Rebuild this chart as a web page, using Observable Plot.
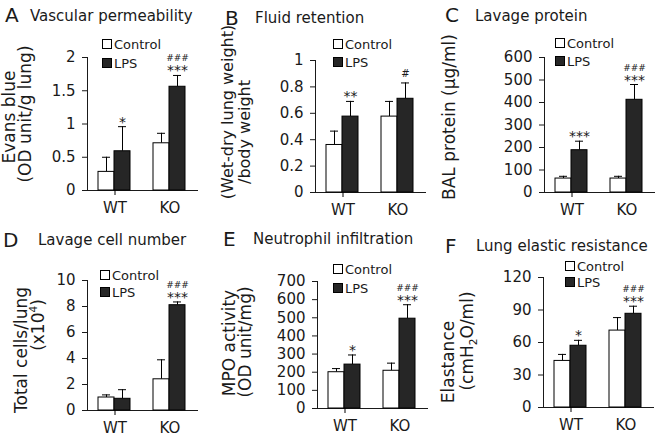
<!DOCTYPE html>
<html><head><meta charset="utf-8">
<script src="https://cdn.jsdelivr.net/npm/d3@7"></script>
<script src="https://cdn.jsdelivr.net/npm/@observablehq/plot@0.6"></script>
<style>
body{margin:0;background:#fff;font-family:"DejaVu Sans",Verdana,sans-serif;color:#1a1a1a}
#fig{position:relative;width:660px;height:436px;overflow:hidden}
.panel{position:absolute}
.abs{position:absolute;white-space:nowrap;line-height:1}
.rot{position:absolute;white-space:nowrap;transform:translate(-50%,-50%) rotate(-90deg);line-height:1}
.leg{position:absolute;display:flex;align-items:center;font-size:13px;line-height:13px;height:13px;white-space:nowrap}
.sw{display:inline-block;width:8px;height:8px;border:1px solid #000;margin-right:2px}
sup,sub{font-size:0.62em;line-height:0}
</style></head><body><div id="fig"></div><script>
// ---- data (order: WT Control, WT LPS, KO Control, KO LPS) ----
const groups = ["WT", "KO"];
const conditions = ["Control", "LPS"];

const evansBlue = [0.28, 0.59, 0.71, 1.56];
const evansBlueErr = [0.22, 0.37, 0.15, 0.17];
const evansBlueStars = ["", "*", "", "***"];
const evansBlueHash = ["", "", "", "###"];
const evansBlueTicks = [0, 0.5, 1, 1.5, 2];

const lungWeight = [0.36, 0.575, 0.575, 0.71];
const lungWeightErr = [0.105, 0.115, 0.115, 0.12];
const lungWeightStars = ["", "**", "", ""];
const lungWeightHash = ["", "", "", "#"];
const lungWeightTicks = [0, 0.2, 0.4, 0.6, 0.8, 1];

const balProtein = [62, 188, 62, 412];
const balProteinErr = [10, 40, 10, 68];
const balProteinStars = ["", "***", "", "***"];
const balProteinHash = ["", "", "", "###"];
const balProteinTicks = [0, 100, 200, 300, 400, 500, 600];

const totalCells = [1.0, 0.9, 2.4, 8.1];
const totalCellsErr = [0.2, 0.7, 1.5, 0.25];
const totalCellsStars = ["", "", "", "***"];
const totalCellsHash = ["", "", "", "###"];
const totalCellsTicks = [0, 2, 4, 6, 8, 10];

const mpoActivity = [200, 242, 208, 495];
const mpoActivityErr = [20, 53, 42, 77];
const mpoActivityStars = ["", "*", "", "***"];
const mpoActivityHash = ["", "", "", "###"];
const mpoActivityTicks = [0, 100, 200, 300, 400, 500, 600, 700];

const elastance = [43, 57, 71, 86.5];
const elastanceErr = [6, 5, 12, 7];
const elastanceStars = ["", "*", "", "***"];
const elastanceHash = ["", "", "", "###"];
const elastanceTicks = [0, 30, 60, 90, 120];

// ---- layout ----
const panels = [
  {letter:"A", title:"Vascular permeability", values:evansBlue, err:evansBlueErr, stars:evansBlueStars, hash:evansBlueHash, ticks:evansBlueTicks,
   left:0, top:0, mL:87, mT:57, mB:28, letterPos:[5,22], titlePos:[30,22], legX:102, legY:[44,63], labFs:17,
   labels:[["Evans blue",9,117],["(OD unit/g lung)",25,114]]},
  {letter:"B", title:"Fluid retention", values:lungWeight, err:lungWeightErr, stars:lungWeightStars, hash:lungWeightHash, ticks:lungWeightTicks,
   left:220, top:0, mL:95, mT:60, mB:26, letterPos:[225,25], titlePos:[255,24], legX:333, legY:[44,62], labFs:16,
   labels:[["(Wet-dry lung weight)",228,112],["/body weight",245,132]]},
  {letter:"C", title:"Lavage protein", values:balProtein, err:balProteinErr, stars:balProteinStars, hash:balProteinHash, ticks:balProteinTicks,
   left:440, top:0, mL:104, mT:57, mB:26, letterPos:[445,22], titlePos:[475,22], legX:555, legY:[43,61], labFs:17,
   labels:[["BAL protein (μg/ml)",449,117]]},
  {letter:"D", title:"Lavage cell number", values:totalCells, err:totalCellsErr, stars:totalCellsStars, hash:totalCellsHash, ticks:totalCellsTicks,
   left:0, top:218, mL:87, mT:62, mB:26, letterPos:[3,247], titlePos:[38,246], legX:100, legY:[275,292], labFs:17,
   labels:[["Total cells/lung",21,350],["(x10<sup>4</sup>)",38,325]]},
  {letter:"E", title:"Neutrophil infiltration", values:mpoActivity, err:mpoActivityErr, stars:mpoActivityStars, hash:mpoActivityHash, ticks:mpoActivityTicks,
   left:220, top:218, mL:97, mT:63, mB:28, letterPos:[223,246], titlePos:[253,245], legX:333, legY:[269,288], labFs:17,
   labels:[["MPO activity",229,343],["(OD unit/mg)",245,342]]},
  {letter:"F", title:"Lung elastic resistance", values:elastance, err:elastanceErr, stars:elastanceStars, hash:elastanceHash, ticks:elastanceTicks,
   left:440, top:218, mL:103, mT:59, mB:29, letterPos:[445,253], titlePos:[476,252], legX:565, legY:[266,282], labFs:17,
   labels:[["Elastance",448,362],["(cmH<sub>2</sub>O/ml)",467,341]]}
];

const fig = document.getElementById("fig");
const INNER = 110, BW = INNER / 2;
const barStyle = {
  Control: {fill:"#ffffff", iL:11, iR:28, dx:-8.5},
  LPS: {fill:"#262626", iL:27, iR:12, dx:7.5}
};

function addDiv(cls, html, x, y, fs) {
  const d = document.createElement("div");
  d.className = cls; d.innerHTML = html;
  d.style.left = x + "px"; d.style.top = y + "px";
  if (fs) d.style.fontSize = fs + "px";
  fig.appendChild(d);
  return d;
}

for (const p of panels) {
  const rows = p.values.map((v, i) => ({
    group: groups[Math.floor(i / 2)], condition: conditions[i % 2],
    value: v, upper: v + p.err[i], stars: p.stars[i], hash: p.hash[i]
  }));
  const marks = [];
  for (const cond of conditions) {
    const s = barStyle[cond];
    const data = rows.filter(d => d.condition === cond);
    marks.push(Plot.ruleX(data, {x:"group", y1:"value", y2:"upper", dx:s.dx, stroke:"#000", strokeWidth:1}));
    marks.push(Plot.tickY(data, {x:"group", y:"upper", insetLeft:s.iL + 4, insetRight:s.iR + 4, stroke:"#000", strokeWidth:1}));
    marks.push(Plot.barY(data, {x:"group", y:"value", fill:s.fill, stroke:"#000", strokeWidth:1, insetLeft:s.iL, insetRight:s.iR}));
    const starred = data.filter(d => d.stars);
    const hashStar = data.filter(d => d.hash && d.stars);
    const hashOnly = data.filter(d => d.hash && !d.stars);
    if (starred.length) marks.push(Plot.text(starred, {x:"group", y:"upper", text:"stars", dx:s.dx, dy:0, lineAnchor:"bottom", fontSize:14, fill:"#1a1a1a"}));
    if (hashStar.length) marks.push(Plot.text(hashStar, {x:"group", y:"upper", text:"hash", dx:s.dx, dy:-14, lineAnchor:"bottom", fontSize:9, fill:"#1a1a1a"}));
    if (hashOnly.length) marks.push(Plot.text(hashOnly, {x:"group", y:"upper", text:"hash", dx:s.dx, dy:-6, lineAnchor:"bottom", fontSize:10, fill:"#1a1a1a"}));
  }
  // category boundary ticks on the x axis
  marks.push(Plot.ruleX(["KO"], {x: d => d, y1: 0, y2: 0, dx: -BW, insetBottom: -5, stroke:"#000"}));
  marks.push(Plot.ruleX(["KO"], {x: d => d, y1: 0, y2: 0, dx: BW, insetBottom: -5, stroke:"#000"}));

  const chart = Plot.plot({
    width: 220, height: 218,
    marginLeft: p.mL, marginRight: 220 - p.mL - INNER, marginTop: p.mT, marginBottom: p.mB,
    style: {fontFamily: "DejaVu Sans", fontSize: "15px", color: "#1a1a1a", background: "transparent", overflow: "hidden"},
    x: {domain: groups, padding: 0, line: true, tickSize: 0, tickPadding: 12, label: null},
    y: {domain: [0, p.ticks[p.ticks.length - 1]], ticks: p.ticks, tickFormat: d => String(d), tickSize: 5, tickPadding: 7, line: true, label: null},
    marks
  });
  const wrap = document.createElement("div");
  wrap.className = "panel";
  wrap.style.left = p.left + "px"; wrap.style.top = p.top + "px";
  wrap.appendChild(chart);
  fig.appendChild(wrap);

  // panel letter and title (positions are baselines)
  addDiv("abs", p.letter, p.letterPos[0], p.letterPos[1] - 0.846 * 20, 20);
  addDiv("abs", p.title, p.titlePos[0], p.titlePos[1] - 0.846 * 15, 15);
  // legend
  conditions.forEach((c, i) => {
    addDiv("leg", `<span class="sw" style="background:${barStyle[c].fill}"></span>${c}`, p.legX, p.legY[i] - 6.5);
  });
  // rotated axis titles
  for (const [txt, cx, cy] of p.labels) addDiv("rot", txt, cx, cy, p.labFs);
}
</script></body></html>
